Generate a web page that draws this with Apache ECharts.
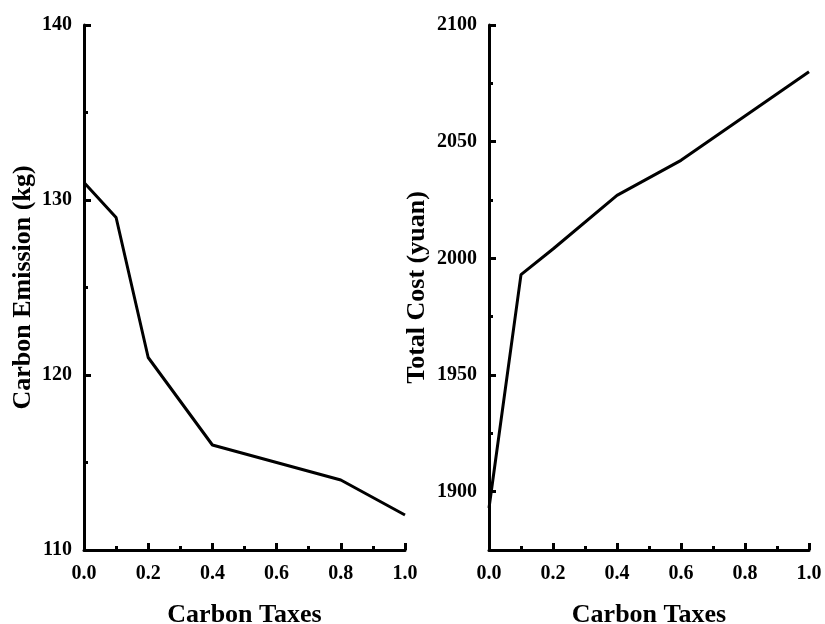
<!DOCTYPE html>
<html>
<head>
<meta charset="utf-8">
<script src="https://cdn.jsdelivr.net/npm/echarts@6/dist/echarts.min.js"></script>
<style>
  html, body { margin: 0; padding: 0; background: #fff; }
  #chart { width: 825px; height: 624px; }
</style>
</head>
<body>
<div id="chart"></div>
<script>
// Carbon tax levels shared by both panels
const carbonTaxes = [0, 0.1, 0.2, 0.4, 0.6, 0.8, 1.0];
// Left panel: carbon emission (kg)
const carbonEmission = [131, 129, 121, 116, 115, 114, 112];
// Right panel: total cost (yuan)
const totalCost = [1893, 1993, 2004, 2027, 2042, 2061, 2080];

// Tick values
const xTicks = [0, 0.2, 0.4, 0.6, 0.8, 1.0];
const emissionTicks = [110, 120, 130, 140];
const costTicks = [1900, 1950, 2000, 2050, 2100];
const costMinorTicks = [1925, 1975, 2025, 2075];

const FONT = '"Liberation Serif", "Times New Roman", serif';
const INK = '#000';

function pairs(xs, ys) {
  return xs.map((x, i) => [x, ys[i]]);
}

const tickLabel = {
  fontFamily: FONT, fontWeight: 'bold', fontSize: 20, color: INK
};
const nameText = {
  fontFamily: FONT, fontWeight: 'bold', fontSize: 26, color: INK
};

function xAxisFor(gridIndex) {
  return {
    type: 'value', gridIndex: gridIndex,
    min: 0, max: 1, interval: 0.2,
    name: 'Carbon Taxes', nameLocation: 'middle', nameGap: 52,
    nameTextStyle: nameText,
    axisLine: { show: true, lineStyle: { color: INK, width: 3 } },
    axisTick: { show: true, inside: true, length: 7, lineStyle: { color: INK, width: 3 } },
    minorTick: { show: true, splitNumber: 2, length: 4, lineStyle: { color: INK, width: 3 } },
    axisLabel: Object.assign({ margin: 14, formatter: v => v.toFixed(1) }, tickLabel),
    splitLine: { show: false }
  };
}

const chart = echarts.init(document.getElementById('chart'), null, { renderer: 'canvas' });

chart.setOption({
  backgroundColor: '#fff',
  animation: false,
  grid: [
    { left: 84, right: 420, top: 25, bottom: 74, containLabel: false, outerBoundsMode: 'none' },
    { left: 489, right: 16, top: 25, bottom: 74, containLabel: false, outerBoundsMode: 'none' }
  ],
  xAxis: [xAxisFor(0), xAxisFor(1)],
  yAxis: [
    {
      type: 'value', gridIndex: 0,
      min: 110, max: 140, interval: 10,
      name: 'Carbon Emission (kg)', nameLocation: 'middle', nameGap: 48,
      nameTextStyle: nameText,
      axisLine: { show: true, lineStyle: { color: INK, width: 3 } },
      axisTick: { show: true, inside: true, length: 7, lineStyle: { color: INK, width: 3 } },
      minorTick: { show: true, splitNumber: 2, length: 4, lineStyle: { color: INK, width: 3 } },
      axisLabel: Object.assign({ margin: 12, formatter: v => String(v) }, tickLabel),
      splitLine: { show: false }
    },
    {
      type: 'value', gridIndex: 1,
      min: 1875, max: 2100,
      name: 'Total Cost (yuan)', nameLocation: 'middle', nameGap: 59,
      nameTextStyle: nameText,
      axisLine: { show: true, lineStyle: { color: INK, width: 3 } },
      axisTick: { show: true, inside: true, length: 7, customValues: costTicks,
                  lineStyle: { color: INK, width: 3 } },
      axisLabel: Object.assign({ margin: 12, customValues: costTicks,
                                 formatter: v => String(v) }, tickLabel),
      splitLine: { show: false }
    },
    {
      // short ticks halfway between the labelled cost ticks
      type: 'value', gridIndex: 1,
      min: 1875, max: 2100, position: 'left',
      axisLine: { show: false },
      axisTick: { show: true, inside: true, length: 4, customValues: costMinorTicks,
                  lineStyle: { color: INK, width: 3 } },
      axisLabel: { show: false },
      splitLine: { show: false }
    }
  ],
  series: [
    {
      type: 'line', xAxisIndex: 0, yAxisIndex: 0,
      data: pairs(carbonTaxes, carbonEmission),
      showSymbol: false, symbol: 'none',
      lineStyle: { color: INK, width: 3 }
    },
    {
      type: 'line', xAxisIndex: 1, yAxisIndex: 1,
      data: pairs(carbonTaxes, totalCost),
      showSymbol: false, symbol: 'none',
      lineStyle: { color: INK, width: 3 }
    }
  ]
});
</script>
</body>
</html>
